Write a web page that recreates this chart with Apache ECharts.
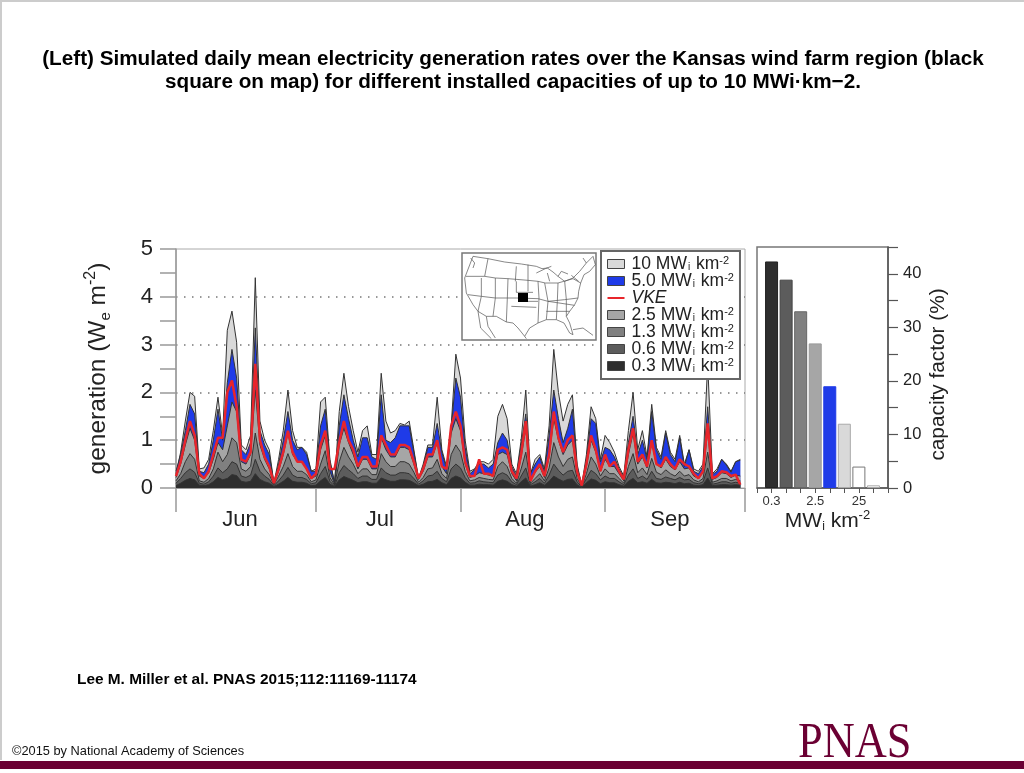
<!DOCTYPE html>
<html><head><meta charset="utf-8">
<style>html,body{margin:0;padding:0;background:#fff}#c{width:1024px;height:773px}</style>
<script src="https://cdn.jsdelivr.net/npm/echarts@6/dist/echarts.min.js"></script></head>
<body><div id="c"></div><script>
const titleText = "(Left) Simulated daily mean electricity generation rates over the Kansas wind farm region (black\nsquare on map) for different installed capacities of up to 10 MWi\u00b7km\u22122.";
const months = ["Jun","Jul","Aug","Sep"];
const monthEdges = [0,30,61,92,122];
const monthCentres = [13.7,43.7,74.8,105.9];
const seriesNames = ["10 MW","5.0 MW","VKE","2.5 MW","1.3 MW","0.6 MW","0.3 MW"];

const gen10 = [.30,.75,1.40,2.00,1.92,.40,.42,.60,1.20,1.90,
1.10,3.30,3.70,3.05,.90,.80,1.10,4.40,1.40,1.00,
.80,.10,.60,1.20,2.05,1.20,.85,.85,.75,.35,
.40,1.80,1.90,.60,.10,1.60,2.40,1.70,1.20,.75,
1.20,1.30,.70,.70,2.40,1.40,1.15,1.20,1.35,1.32,
1.40,.80,.20,.50,.90,.90,1.90,.80,.45,1.30,
2.80,2.30,1.00,.35,.40,.55,.55,.50,.60,1.50,
1.75,1.45,.50,.30,1.00,2.05,.30,.60,.70,.40,
1.30,2.90,2.00,1.40,1.75,1.95,.50,.05,.70,1.70,
1.45,.60,1.10,.95,.75,.45,.25,1.20,2.00,.80,
1.20,.65,1.75,.85,.65,1.20,.75,.60,1.10,.50,
.80,.40,.35,.50,2.60,.30,.40,.60,.50,.35,
.55,.60];
const gen5 = [.35,.70,1.20,1.75,1.55,.35,.32,.50,1.00,1.65,
1.00,2.20,2.90,2.30,.80,.70,.95,3.35,1.20,.90,
.70,.10,.50,1.00,1.60,1.00,.80,.85,.70,.35,
.35,1.30,1.65,.55,.10,1.30,1.95,1.45,1.00,.65,
1.05,1.05,.65,.60,1.95,1.00,.95,1.05,1.30,1.30,
1.30,.75,.20,.45,.85,.85,1.35,.75,.40,1.25,
2.30,1.90,.85,.30,.38,.50,.50,.42,.50,.95,
1.15,1.00,.45,.25,.90,1.55,.30,.50,.65,.35,
1.10,2.05,1.45,.95,1.25,1.65,.45,.05,.60,1.45,
1.35,.55,.85,.80,.65,.40,.22,.95,1.50,.70,
1.00,.60,1.60,.80,.60,1.15,.70,.55,1.05,.45,
.80,.35,.30,.45,1.70,.28,.35,.60,.48,.33,
.55,.58];
const vke = [.25,.55,1.00,1.40,1.10,.30,.20,.35,.70,1.05,
1.05,2.00,2.25,1.70,.60,.55,.75,2.60,1.00,.65,
.45,.10,.40,.75,1.20,.75,.55,.55,.40,.20,
.30,.90,1.20,.40,.40,.95,1.40,1.00,.80,.45,
.65,.65,.45,.45,1.10,.90,.70,.70,.90,.90,
.85,.55,.20,.40,.70,.70,1.00,.45,.40,1.30,
1.60,1.30,.55,.25,.25,.60,.30,.30,.25,.80,
.85,.80,.35,.20,.70,1.40,.15,.35,.50,.25,
.70,1.60,1.05,.75,1.00,1.10,.35,.05,.50,1.10,
.80,.35,.70,.45,.55,.35,.18,.80,1.25,.55,
.70,.45,1.00,.50,.45,.65,.50,.40,.60,.50,
.45,.30,.20,.35,1.35,.20,.25,.35,.33,.25,
.28,.07];
const gen25 = [.22,.50,.90,1.25,1.00,.25,.20,.32,.60,.95,
.80,1.30,1.80,1.60,.55,.50,.70,2.05,.90,.60,
.40,.10,.35,.70,1.15,.70,.55,.55,.40,.20,
.25,.80,1.10,.35,.08,.90,1.25,.95,.70,.40,
.60,.60,.40,.40,1.05,.80,.65,.65,.85,.85,
.80,.50,.18,.35,.65,.65,.95,.45,.30,1.15,
1.45,1.20,.50,.22,.25,.32,.30,.27,.25,.70,
.75,.70,.30,.15,.65,1.25,.15,.33,.45,.22,
.65,1.45,1.00,.70,.90,1.00,.30,.04,.45,1.00,
.75,.35,.60,.45,.45,.30,.15,.70,1.15,.50,
.65,.42,.95,.50,.42,.60,.45,.38,.55,.40,
.42,.25,.20,.32,1.20,.18,.22,.32,.30,.22,
.27,.25];
const gen13 = [.15,.30,.55,.72,.60,.15,.12,.20,.40,.75,
.55,.70,1.05,.95,.40,.35,.45,1.15,.60,.40,
.28,.07,.25,.45,.72,.45,.35,.35,.28,.13,
.17,.50,.78,.22,.06,.55,.85,.65,.50,.30,
.40,.40,.28,.28,.72,.55,.45,.45,.55,.55,
.50,.33,.12,.22,.40,.42,.60,.30,.20,.70,
.90,.75,.35,.15,.17,.22,.20,.18,.17,.45,
.55,.45,.20,.10,.40,.75,.10,.20,.30,.15,
.42,.95,.65,.45,.60,.65,.20,.03,.30,.65,
.50,.25,.40,.30,.30,.20,.10,.45,.72,.32,
.42,.28,.62,.33,.28,.38,.30,.25,.35,.25,
.28,.17,.13,.20,.75,.12,.15,.20,.20,.15,
.18,.15];
const gen06 = [.10,.20,.32,.40,.33,.10,.08,.13,.25,.42,
.32,.40,.55,.50,.25,.22,.27,.60,.35,.25,
.18,.05,.15,.27,.43,.27,.22,.22,.18,.09,
.11,.30,.45,.14,.04,.32,.47,.38,.30,.20,
.25,.25,.18,.18,.42,.32,.27,.27,.32,.32,
.30,.20,.08,.15,.25,.27,.35,.20,.13,.40,
.50,.42,.22,.10,.11,.15,.13,.12,.11,.27,
.32,.27,.13,.07,.25,.42,.07,.13,.20,.10,
.27,.50,.37,.27,.35,.37,.13,.02,.20,.37,
.30,.17,.25,.20,.20,.13,.07,.27,.40,.20,
.25,.18,.35,.20,.18,.23,.20,.17,.22,.17,
.18,.11,.09,.13,.42,.08,.10,.13,.13,.10,
.12,.10];
const gen03 = [.05,.10,.16,.20,.17,.06,.05,.07,.13,.22,
.17,.20,.28,.26,.14,.12,.14,.30,.18,.13,
.10,.03,.08,.14,.22,.14,.12,.12,.10,.05,
.06,.15,.22,.08,.03,.17,.24,.20,.16,.11,
.13,.13,.10,.10,.21,.17,.14,.14,.17,.17,
.16,.11,.05,.08,.13,.14,.18,.11,.07,.20,
.25,.21,.12,.06,.06,.08,.07,.07,.06,.14,
.17,.14,.07,.04,.13,.21,.04,.07,.11,.06,
.14,.25,.19,.14,.18,.19,.07,.01,.11,.19,
.16,.09,.13,.11,.11,.07,.04,.14,.20,.11,
.13,.10,.18,.11,.10,.12,.11,.09,.12,.09,
.10,.06,.05,.07,.21,.05,.06,.07,.07,.06,
.07,.06];

const capacityLabels = ["0.3","","","2.5","","","25",""];
const capacityFactor = [42.3,38.9,33,27,19,12,4,0.5];

const fills = ["#d9d9d9","#1f3be8","#e8252b","#a6a6a6","#808080","#5c5c5c","#2e2e2e"];
const barFills = ["#2e2e2e","#5c5c5c","#808080","#a6a6a6","#1f3be8","#d9d9d9","#ffffff","#ffffff"];
const barEdges = ["#222","#444","#666","#999","#1f3be8","#aaa","#777","#aaa"];
const genData = [gen10,gen5,vke,gen25,gen13,gen06,gen03];

const FONT = '"Liberation Sans", Arial, sans-serif';

// Decorative inset map outline
const mapPaths = [
 [[45,25],[90,32],[140,42],[190,48],[235,55],[252,62],[268,60],[285,72],[300,85],[320,100],[345,90],[365,70],[385,45],[405,25],[412,50],[395,70],[378,80],[368,105],[362,130],[360,150],[350,170],[335,190],[325,205],[335,225],[345,260],[335,255],[318,225],[295,215],[265,215],[240,225],[215,240],[200,265],[180,240],[165,225],[145,222],[115,205],[85,205],[60,190],[45,170],[25,135],[20,90],[45,25]],
 [[90,32],[80,85],[112,90],[150,92],[210,97],[240,100],[262,105],[300,105],[345,92]],
 [[24,85],[80,85]],[[30,140],[70,145],[112,150],[175,150],[240,152],[270,160],[320,155],[360,150]],
 [[112,90],[112,150],[105,205]],[[150,92],[148,150],[145,222]],[[210,50],[210,130]],[[70,90],[70,145],[60,190]],
 [[240,100],[243,150],[240,225]],[[175,100],[175,133]],[[160,175],[235,178]],[[260,105],[270,160],[265,215]],
 [[300,105],[298,160],[295,215]],[[270,160],[350,172]],[[320,100],[325,155],[325,205]],[[265,190],[335,190]],
 [[175,133],[225,133]],[[210,160],[240,160]],[[345,92],[368,105]],[[175,55],[172,100]],
 [[60,190],[68,240],[100,272]],[[85,205],[90,235],[112,270]],[[200,265],[205,272]],
 [[235,75],[262,62],[280,55]],[[268,75],[275,100]],[[300,85],[310,70],[330,78]],[[362,100],[340,82]],[[375,30],[385,45]],
 [[345,245],[375,240],[405,262]],[[38,30],[50,45],[45,60]]
];
const mapX = v => 458 + v / 3, mapY = v => 248 + v / 3;
const mapGraphics = mapPaths.map(p => ({type:'polyline', z:11,
  shape:{points:p.map(q => [mapX(q[0]), mapY(q[1])])}, style:{stroke:'#555', lineWidth:0.7, fill:null}}));

const richBase = {
  n:{fontSize:17.5, lineHeight:17.3, color:'#222', fontFamily:FONT},
  v:{fontSize:17.5, lineHeight:17.3, color:'#222', fontFamily:FONT, fontStyle:'italic'},
  s:{fontSize:10, lineHeight:17.3, color:'#222', fontFamily:FONT, verticalAlign:'bottom', padding:[0,1,0,1]},
  u:{fontSize:11, lineHeight:17.3, color:'#222', fontFamily:FONT, verticalAlign:'top'}
};

const series = seriesNames.map((name,k) => {
  const isRed = name === 'VKE';
  return {
    name, type:'line', xAxisIndex:0, yAxisIndex:0, showSymbol:false, symbol:'none', silent:true,
    z: isRed ? 9 : 3 + k, smooth:false,
    data: genData[k].map((v,i) => [i,v]),
    itemStyle:{color:fills[k]},
    lineStyle: isRed ? {color:'#e8252b', width:2.5} : {color:'#333', width:1},
    areaStyle: isRed ? undefined : {color:fills[k], opacity:1}
  };
});
series.push({
  type:'bar', name:'capacity factor', xAxisIndex:1, yAxisIndex:1, barWidth:13, silent:true,
  data: capacityFactor.map((v,i) => ({value:[i+1,v], itemStyle:{color:barFills[i], borderColor:barEdges[i], borderWidth:1}}))
});

const option = {
  animation:false, backgroundColor:'#fff',
  title:{text:titleText, left:508, top:43, textAlign:'center',
    textStyle:{fontFamily:FONT, fontSize:20.7, fontWeight:'bold', color:'#000', lineHeight:23}},
  grid:[
    {left:176, top:249, width:569, height:239, show:true, borderColor:'#aaa', borderWidth:1, backgroundColor:'#fff'},
    {left:757, top:247, width:131, height:241, show:true, borderColor:'#777', borderWidth:1.5, backgroundColor:'#fff'}
  ],
  xAxis:[
    {gridIndex:0, type:'value', min:0, max:122, splitLine:{show:false},
     axisLine:{onZero:false, lineStyle:{color:'#999', width:1}},
     axisTick:{show:true, customValues:monthEdges, length:24, lineStyle:{color:'#999', width:1.5}},
     axisLabel:{show:true, customValues:monthCentres, margin:21, fontFamily:FONT, fontSize:22, color:'#222',
       formatter:v => months[monthCentres.indexOf(v)] || ''}},
    {gridIndex:1, type:'value', min:0, max:9, interval:1, splitLine:{show:false},
     axisLine:{onZero:false, lineStyle:{color:'#555', width:1.5}},
     axisTick:{length:5, lineStyle:{color:'#555'}},
     axisLabel:{margin:7, fontFamily:FONT, fontSize:13, color:'#333', formatter:v => capacityLabels[v-1] || ''},
     name:'{n|MW}{s|i}{n| km}{u|-2}', nameLocation:'middle', nameGap:21,
     nameTextStyle:{padding:[0,0,0,10], rich:{
       n:{fontSize:21, lineHeight:24, color:'#222', fontFamily:FONT},
       s:{fontSize:12, lineHeight:24, color:'#222', fontFamily:FONT, verticalAlign:'bottom'},
       u:{fontSize:13, lineHeight:24, color:'#222', fontFamily:FONT, verticalAlign:'top'}}}}
  ],
  yAxis:[
    {gridIndex:0, type:'value', min:0, max:5, interval:1,
     axisLine:{show:true, onZero:false, lineStyle:{color:'#999', width:1.5}},
     axisTick:{show:true, length:16, lineStyle:{color:'#999', width:1.5}},
     minorTick:{show:true, splitNumber:2, length:16, lineStyle:{color:'#999', width:1.5}},
     splitLine:{show:true, showMinLine:false, showMaxLine:false, lineStyle:{type:[1.5,6.5], color:'#777', width:1.5}},
     axisLabel:{margin:23, fontFamily:FONT, fontSize:22, color:'#222'},
     name:'{n|generation (W}{s|e}{n| m}{u|-2}{n|)}', nameLocation:'middle', nameGap:63, nameRotate:90,
     nameTextStyle:{rich:{
       n:{fontSize:24.5, lineHeight:30, color:'#222', fontFamily:FONT},
       s:{fontSize:15, lineHeight:30, color:'#222', fontFamily:FONT, verticalAlign:'bottom'},
       u:{fontSize:16, lineHeight:30, color:'#222', fontFamily:FONT, verticalAlign:'top'}}}},
    {gridIndex:1, type:'value', position:'right', min:0, max:45, interval:5, splitLine:{show:false},
     axisLine:{show:true, onZero:false, lineStyle:{color:'#555', width:1.5}},
     axisTick:{show:true, length:10, lineStyle:{color:'#555', width:1.2}},
     axisLabel:{margin:15, fontFamily:FONT, fontSize:16.5, color:'#222', formatter:v => v % 10 === 0 ? String(v) : ''},
     name:'capacity factor (%)', nameLocation:'middle', nameGap:40, nameRotate:90,
     nameTextStyle:{fontFamily:FONT, fontSize:20.8, color:'#222', padding:[0,14,0,0]}}
  ],
  legend:{
    left:601, top:251, orient:'vertical', itemWidth:17, itemHeight:9, itemGap:-1, selectedMode:false,
    padding:[4,6,4,6], backgroundColor:'#fff', borderColor:'#666', borderWidth:2, z:20,
    data:seriesNames.map((name,k) => name === 'VKE'
      ? {name, icon:'path://M0 4H17V6H0Z', itemStyle:{color:'#e8252b', borderWidth:0}}
      : {name, icon:'rect', itemStyle:{color:fills[k], borderColor:'#444', borderWidth:1}}),
    formatter:name => name === 'VKE' ? '{v|VKE}' : `{n|${name}}{s|i}{n| km}{u|-2}`,
    textStyle:{padding:[0,0,0,2], rich:richBase}
  },
  graphic:[
    {type:'line', z:1, shape:{x1:0,y1:1,x2:1024,y2:1}, style:{stroke:'#ccc', lineWidth:2}},
    {type:'line', z:1, shape:{x1:1,y1:0,x2:1,y2:760}, style:{stroke:'#ccc', lineWidth:2}},
    {type:'rect', z:10, shape:{x:462,y:253,width:134,height:87}, style:{fill:'#fff', stroke:'#777', lineWidth:1.5}},
    ...mapGraphics,
    {type:'rect', z:12, shape:{x:518,y:293,width:10,height:9}, style:{fill:'#000'}},
    {type:'text', z:5, x:77, y:672, style:{text:'Lee M. Miller et al. PNAS 2015;112:11169-11174', font:`bold 15.4px ${FONT}`, fill:'#000'}},
    {type:'text', z:5, x:12, y:745, style:{text:'\u00a92015 by National Academy of Sciences', font:`12.8px ${FONT}`, fill:'#111'}},
    {type:'text', z:5, x:798, y:718, scaleX:0.87, style:{text:'PNAS', font:'51px "Liberation Serif", serif', fill:'#6b0033'}},
    {type:'rect', z:6, shape:{x:0,y:761,width:1024,height:8}, style:{fill:'#6b0033'}}
  ],
  series
};
const chart = echarts.init(document.getElementById('c'), null, {renderer:'canvas'});
chart.setOption(option);
</script></body></html>
